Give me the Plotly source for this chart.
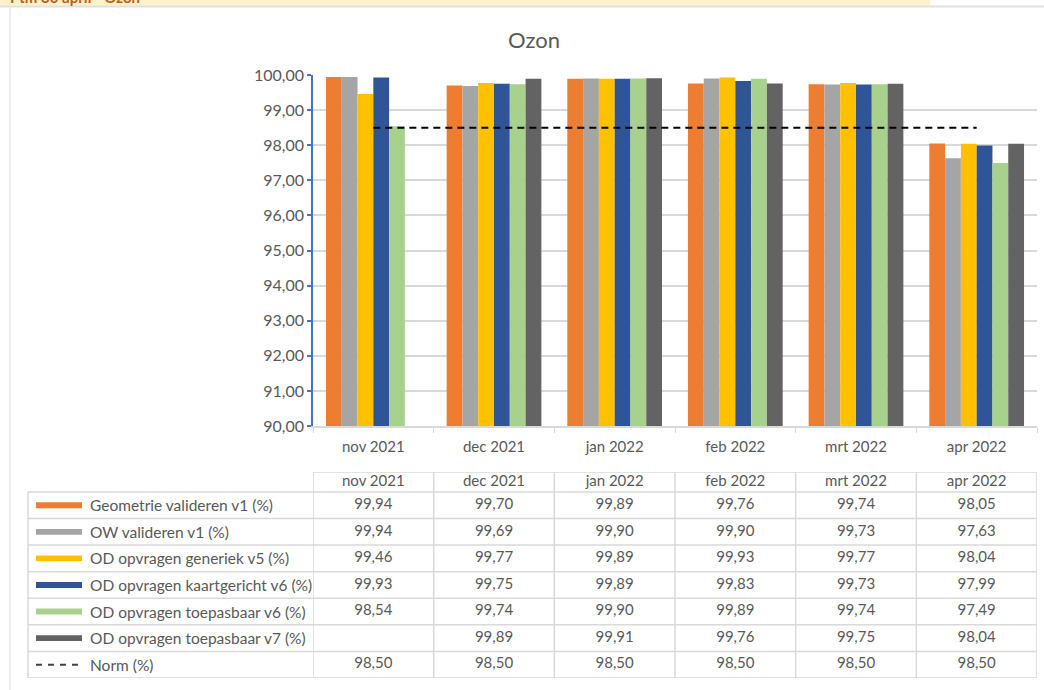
import plotly.graph_objects as go

# data
months = ["nov 2021", "dec 2021", "jan 2022", "feb 2022", "mrt 2022", "apr 2022"]
series_names = [
    "Geometrie valideren v1 (%)",
    "OW valideren v1 (%)",
    "OD opvragen generiek v5 (%)",
    "OD opvragen kaartgericht v6 (%)",
    "OD opvragen toepasbaar v6 (%)",
    "OD opvragen toepasbaar v7 (%)",
]
geometrie_v1 = [99.94, 99.70, 99.89, 99.76, 99.74, 98.05]
ow_v1 = [99.94, 99.69, 99.90, 99.90, 99.73, 97.63]
od_generiek_v5 = [99.46, 99.77, 99.89, 99.93, 99.77, 98.04]
od_kaart_v6 = [99.93, 99.75, 99.89, 99.83, 99.73, 97.99]
od_toepas_v6 = [98.54, 99.74, 99.90, 99.89, 99.74, 97.49]
od_toepas_v7 = [None, 99.89, 99.91, 99.76, 99.75, 98.04]
norm = [98.50, 98.50, 98.50, 98.50, 98.50, 98.50]
norm_name = "Norm (%)"

colors = ["#ED7D31", "#A5A5A5", "#FFC000", "#2F5597", "#A9D18E", "#636363"]
series_vals = [geometrie_v1, ow_v1, od_generiek_v5, od_kaart_v6, od_toepas_v6, od_toepas_v7]

W, H = 1044, 690
ML, MR, MT, MB = 313, 7, 75, 12
PW = W - ML - MR
PH = H - MT - MB
FONT = "Lato"
TXT = "#595959"
GRID = "#D9D9D9"


def px_x(p):
    return (p - ML) / PW


def px_y(p):
    return (H - MB - p) / PH


def fmt(v):
    return "" if v is None else f"{v:.2f}".replace(".", ",")


fig = go.Figure()

for name, vals, col in zip(series_names, series_vals, colors):
    fig.add_trace(go.Bar(x=months, y=vals, name=name, marker=dict(color=col, line=dict(width=0))))

fig.add_trace(go.Scatter(x=months, y=norm, name=norm_name, mode="lines",
                         line=dict(color="black", width=2, dash="7px,5px")))

# data table under the chart
all_rows = series_vals + [norm]
for i, vals in enumerate(all_rows):
    fig.add_trace(go.Scatter(x=months, y=[i] * len(months), text=[fmt(v) for v in vals],
                             mode="text", yaxis="y2", hoverinfo="skip",
                             textfont=dict(family=FONT, size=15, color=TXT)))
fig.add_trace(go.Scatter(x=months, y=[-0.875] * len(months), text=months, mode="text",
                         yaxis="y2", hoverinfo="skip",
                         textfont=dict(family=FONT, size=15, color=TXT)))

shapes = []
left = px_x(28)


def hline(x0, x1, y, xref):
    shapes.append(dict(type="line", xref=xref, yref="y2", x0=x0, x1=x1, y0=y, y1=y,
                       line=dict(color=GRID, width=1.5)))


hline(-0.5, 5.5, -1.25, "x")
for k in range(len(all_rows) + 1):
    hline(left, 1, k - 0.5, "paper")
for k in range(len(months) + 1):
    shapes.append(dict(type="line", xref="x", yref="y2", x0=k - 0.5, x1=k - 0.5, y0=-1.25, y1=6.5,
                       line=dict(color=GRID, width=1.5)))
shapes.append(dict(type="line", xref="paper", yref="y2", x0=left, x1=left, y0=-0.5, y1=6.5,
                   line=dict(color=GRID, width=1.5)))

annotations = []
for i, name in enumerate(series_names + [norm_name]):
    if i < len(colors):
        shapes.append(dict(type="rect", xref="paper", yref="y2", x0=px_x(36), x1=px_x(82),
                           y0=i - 0.11, y1=i + 0.11, fillcolor=colors[i], line=dict(width=0)))
    else:
        shapes.append(dict(type="line", xref="paper", yref="y2", x0=px_x(36), x1=px_x(82),
                           y0=i, y1=i, line=dict(color="#404040", width=2, dash="6px,6px")))
    annotations.append(dict(text=name, xref="paper", yref="y2", x=px_x(88), y=i,
                            xanchor="left", yanchor="middle", showarrow=False,
                            font=dict(family=FONT, size=15.5, color=TXT)))

# frame bits around the chart
shapes.append(dict(type="rect", xref="paper", yref="paper", x0=px_x(0), x1=px_x(930),
                   y0=px_y(6), y1=px_y(-5), fillcolor="#FFF2CC", line=dict(width=0), layer="below"))
shapes.append(dict(type="line", xref="paper", yref="paper", x0=px_x(0), x1=px_x(1044),
                   y0=px_y(6.5), y1=px_y(6.5), line=dict(color="#E0E0E0", width=2)))
shapes.append(dict(type="line", xref="paper", yref="paper", x0=px_x(10), x1=px_x(10),
                   y0=px_y(6.5), y1=px_y(690), line=dict(color="#E8E8E8", width=1.5)))
annotations.append(dict(text="<b>Ptm 30 april - Ozon</b>", xref="paper", yref="paper",
                        x=px_x(8), y=px_y(8), xanchor="left", yanchor="bottom", showarrow=False,
                        font=dict(family=FONT, size=15, color="#C55A11")))

fig.update_layout(
    width=W, height=H, autosize=False,
    margin=dict(l=ML, r=MR, t=MT, b=MB),
    template="none",
    paper_bgcolor="white", plot_bgcolor="white",
    separators=",.",
    showlegend=False,
    barmode="group", bargap=0.215, bargroupgap=0,
    title=dict(text="Ozon", x=534 / W, xanchor="center", y=1 - 40 / H, yanchor="middle",
               font=dict(family=FONT, size=22, color=TXT)),
    xaxis=dict(type="category", showgrid=False, showline=True, linecolor=GRID, linewidth=1.5,
               ticks="outside", tickson="boundaries", ticklen=5, tickcolor=GRID,
               ticklabelstandoff=6, tickfont=dict(family=FONT, size=15, color=TXT),
               range=[-0.5, 5.5], zeroline=False),
    yaxis=dict(domain=[px_y(426), 1], range=[90, 100], dtick=1, tickformat=".2f",
               showgrid=True, gridcolor=GRID, gridwidth=1.5, showline=True,
               linecolor="#4472C4", linewidth=1.5, ticks="outside", ticklen=4,
               tickcolor="#4472C4", tickwidth=1.5, zeroline=False,
               tickfont=dict(family=FONT, size=16, color=TXT)),
    yaxis2=dict(domain=[0, px_y(472)], range=[6.5, -1.25], anchor="x", showgrid=False,
                showline=False, showticklabels=False, zeroline=False, ticks=""),
    shapes=shapes,
    annotations=annotations,
)

fig.write_html("out.html", config={"displayModeBar": False},
               post_script="document.body.style.margin='0';")
